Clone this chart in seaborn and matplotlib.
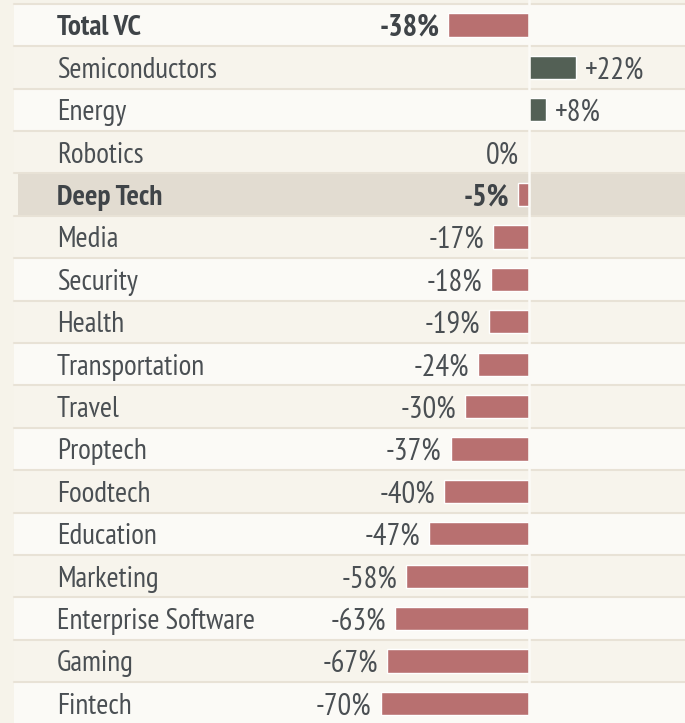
import matplotlib
matplotlib.use("Agg")
import matplotlib.pyplot as plt
import matplotlib.font_manager as fm
import seaborn as sns
import pandas as pd

# dati
categories = ["Total VC", "Semiconductors", "Energy", "Robotics", "Deep Tech",
              "Media", "Security", "Health", "Transportation", "Travel",
              "Proptech", "Foodtech", "Education", "Marketing",
              "Enterprise Software", "Gaming", "Fintech"]
changes = [-38, 22, 8, 0, -5, -17, -18, -19, -24, -30, -37, -40, -47, -58, -63, -67, -70]
bold_rows = ["Total VC", "Deep Tech"]
highlight_row = "Deep Tech"

names = {f.name for f in fm.fontManager.ttflist}
family = "DejaVu Sans"
for cand in ["PT Sans Narrow", "Fira Sans Condensed", "Roboto Condensed",
             "Open Sans Condensed", "Liberation Sans Narrow", "Open Sans"]:
    if cand in names:
        family = cand
        break

df = pd.DataFrame({"category": categories, "change": changes})
df["sign"] = ["pos" if v > 0 else "neg" for v in df["change"]]

sns.set_theme(style="white")
plt.rcParams["font.family"] = [family, "DejaVu Sans"]

bg = "#f6f3ea"
text_col = "#4a4f53"
fs_name, fs_val = 21, 22
fig = plt.figure(figsize=(6.85, 7.23), dpi=100, facecolor=bg)
ax = fig.add_axes([0, 0, 1, 1])
ax.set_facecolor(bg)

W, H = 685, 723
zero_px, px_per = 529, 2.12
row0_px, row_h = 25, 42.4


def px2x(px):
    return (px - zero_px) / px_per


x_right = px2x(W)

sns.barplot(data=df, y="category", x="change", hue="sign", orient="h",
            palette={"neg": "#b87070", "pos": "#536055"}, width=0.55,
            dodge=False, legend=False, ax=ax, zorder=2, saturation=1)

# sfondo righe alternate
for i, cat in enumerate(categories):
    if cat == highlight_row:
        c = "#e2dcd1"
        x0 = px2x(18)
    else:
        c = "#fbfaf6" if i % 2 == 0 else "#f7f4ec"
        x0 = px2x(14)
    ax.fill_between([x0, x_right], i - 0.5, i + 0.5, color=c, zorder=0, lw=0)
    ax.plot([px2x(14), x_right], [i - 0.5, i - 0.5], color="#e8e2d6", lw=1.5, zorder=1)
ax.plot([px2x(14), x_right], [len(categories) - 0.5] * 2, color="#e8e2d6", lw=1.5, zorder=1)

ax.axvline(0, color="#fbfaf6", lw=1.8, zorder=3)

for i, (cat, v) in enumerate(zip(categories, changes)):
    weight = "bold" if cat in bold_rows else "normal"
    col = "#3f4448" if cat in bold_rows else text_col
    ax.text(px2x(57), i, cat, ha="left", va="center_baseline", fontsize=fs_name, color=col,
            fontweight=weight)
    if v > 0:
        ax.annotate(f"+{v}%", (v, i), xytext=(6.5, 0), textcoords="offset points",
                    ha="left", va="center_baseline", fontsize=fs_val, color=col, fontweight=weight)
    elif v < 0:
        ax.annotate(f"{v}%", (v, i), xytext=(-6.5, 0), textcoords="offset points",
                    ha="right", va="center_baseline", fontsize=fs_val, color=col, fontweight=weight)
    else:
        ax.text(px2x(519), i, "0%", ha="right", va="center_baseline", fontsize=fs_val,
                color=col, fontweight=weight)

ax.set_xlim(px2x(0), x_right)
ax.set_ylim((H - row0_px) / row_h, -row0_px / row_h)
ax.set_xlabel("")
ax.set_ylabel("")
ax.set_xticks([])
ax.set_yticks([])
for s in ax.spines.values():
    s.set_visible(False)

fig.savefig("out.png", dpi=100, facecolor=bg)
